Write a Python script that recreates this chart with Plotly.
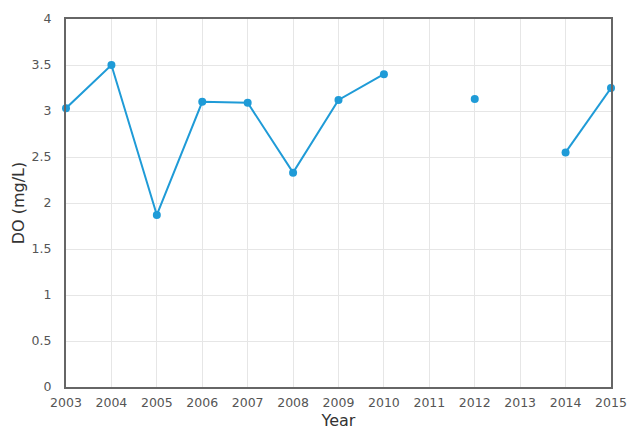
import plotly.graph_objects as go

# Annual dissolved oxygen readings (None = no measurement that year)
years = [2003, 2004, 2005, 2006, 2007, 2008, 2009, 2010, 2011, 2012, 2013, 2014, 2015]
do_values = [3.03, 3.50, 1.87, 3.10, 3.09, 2.33, 3.12, 3.40, None, 3.13, None, 2.55, 3.25]
y_ticks = [0, 0.5, 1, 1.5, 2, 2.5, 3, 3.5, 4]

line_color = "#1f9bd7"
font_family = "DejaVu Sans, Verdana, sans-serif"

fig = go.Figure(
    go.Scatter(
        x=years,
        y=do_values,
        mode="lines+markers",
        connectgaps=False,
        line=dict(color=line_color, width=2),
        marker=dict(color=line_color, size=8),
        cliponaxis=False,
        showlegend=False,
    )
)

fig.update_layout(
    width=630,
    height=430,
    margin=dict(l=66, r=19, t=19, b=43),
    paper_bgcolor="white",
    plot_bgcolor="white",
    font=dict(family=font_family, size=12.5, color="#555555"),
)

fig.update_xaxes(
    range=[2003, 2015],
    tickmode="array",
    tickvals=years,
    ticktext=[str(y) for y in years],
    automargin=False,
    showgrid=True,
    gridcolor="#e6e6e6",
    gridwidth=1,
    showline=True,
    linecolor="#666666",
    linewidth=2,
    mirror=True,
    ticks="",
    ticklabelstandoff=3,
    zeroline=False,
    title=dict(text="Year", font=dict(size=16, color="#333333"), standoff=9),
)

fig.update_yaxes(
    range=[0, 4],
    tickmode="array",
    tickvals=y_ticks,
    ticktext=[f"{v:g}" for v in y_ticks],
    automargin=False,
    showgrid=True,
    gridcolor="#e6e6e6",
    gridwidth=1,
    showline=True,
    linecolor="#666666",
    linewidth=2,
    mirror=True,
    ticks="",
    ticklabelstandoff=10,
    zeroline=False,
    title=dict(text="DO (mg/L)", font=dict(size=16, color="#333333"), standoff=3),
)

fig.write_html("out.html")
